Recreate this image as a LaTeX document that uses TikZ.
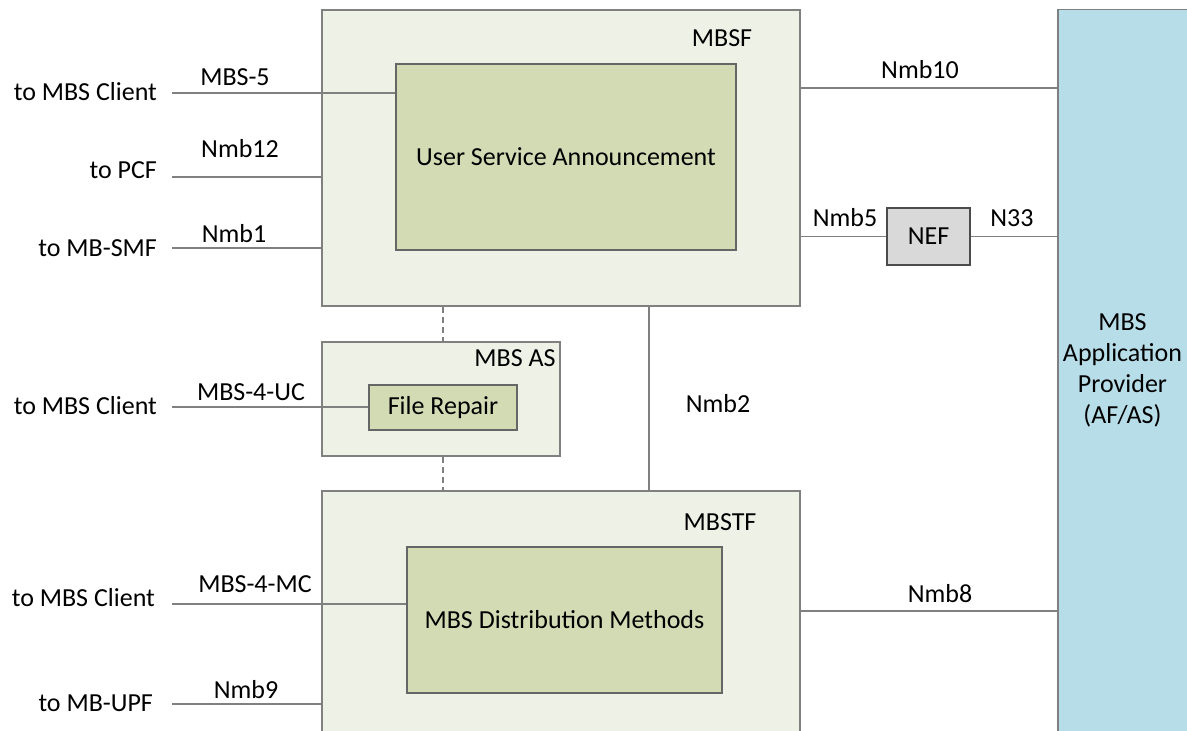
\documentclass[tikz,border=0pt]{standalone}
\usepackage{fontspec}
\setmainfont{Carlito}
\definecolor{boxgreen}{HTML}{EEF1E6}
\definecolor{innergreen}{HTML}{D3DBB5}
\definecolor{appblue}{HTML}{B7DDE8}
\definecolor{nefgray}{HTML}{D9D9D9}
\definecolor{linegray}{HTML}{808080}
\tikzset{
 outerbox/.style={draw=linegray, fill=boxgreen, line width=0.7pt, inner sep=0pt},
 innerbox/.style={draw=black!60, fill=innergreen, line width=0.6pt, inner sep=0pt},
 link/.style={draw=linegray, line width=0.6pt}
}
\begin{document}
\begin{tikzpicture}[x=0.5pt,y=-0.5pt,font=\fontsize{13}{15.5}\selectfont]
\useasboundingbox (0,0) rectangle (1187,731);
\clip (0,0) rectangle (1187,731);

% boxes
\node[outerbox, minimum width=239pt, minimum height=148pt] (mbsf) at (561,158) {};
\node[innerbox, minimum width=170pt, minimum height=93pt] (usa) at (566,157) {User Service Announcement};
\node[outerbox, minimum width=119pt, minimum height=57pt] (mbsas) at (441,399) {};
\node[innerbox, minimum width=74pt, minimum height=22.5pt] (repair) at (443,407.5) {File Repair};
\node[outerbox, minimum width=239pt, minimum height=134.5pt] (mbstf) at (561,625.5) {};
\node[innerbox, minimum width=157.5pt, minimum height=73pt] (distr) at (564.5,620) {MBS Distribution Methods};
\node[draw=black!70, fill=nefgray, line width=0.6pt, minimum width=41.5pt, minimum height=28.5pt, inner sep=0pt] (nef) at (928.5,236.5) {NEF};
\node[fill=appblue, minimum width=64.5pt, minimum height=360.5pt, inner sep=0pt, align=center] (app) at (1122.5,370.5) {MBS\\Application\\Provider\\(AF/AS)};
\draw[linegray, line width=0.9pt] (app.south west) |- (app.north east);

\node at (722,38) {MBSF};
\node at (515,358) {MBS AS};
\node at (720,522) {MBSTF};

% left side
\node[anchor=east] (c1) at (164,92) {to MBS Client};
\node[anchor=east] (pcf) at (164,170) {to PCF};
\node[anchor=east] (smf) at (164,248) {to MB-SMF};
\node[anchor=east] (c2) at (164,406) {to MBS Client};
\node[anchor=east] (c3) at (162,598) {to MBS Client};
\node[anchor=east] (upf) at (160,703) {to MB-UPF};

\coordinate (l1) at (172,93);
\coordinate (l2) at (172,177);
\coordinate (l3) at (172,248);
\coordinate (l4) at (172,407);
\coordinate (l5) at (172,604);
\coordinate (l6) at (172,704);
\draw[link] (l1) -- (l1 -| usa.west);
\draw[link] (l2) -- (l2 -| mbsf.west);
\draw[link] (l3) -- (l3 -| mbsf.west);
\draw[link] (l4) -- (l4 -| repair.west);
\draw[link] (l5) -- (l5 -| distr.west);
\draw[link] (l6) -- (l6 -| mbstf.west);

\node at (235,77) {MBS-5};
\node at (240,149) {Nmb12};
\node at (234,234) {Nmb1};
\node at (251,392) {MBS-4-UC};
\node at (255,584) {MBS-4-MC};
\node at (246,690) {Nmb9};

% middle
\coordinate (n2) at (649,0);
\draw[link] (mbsf.south -| n2) -- (mbstf.north -| n2);
\draw[link, densely dashed] (mbsf.south -| repair) -- (mbsas.north -| repair);
\draw[link, densely dashed] (mbsas.south -| repair) -- (mbstf.north -| repair);
\node at (718,404) {Nmb2};

% right side
\coordinate (r1) at (1000,88);
\coordinate (r2) at (1000,611);
\draw[link] (r1 -| mbsf.east) -- (r1 -| app.west);
\draw[link] (nef.west -| mbsf.east) -- (nef.west);
\draw[link] (nef.east) -- (nef.east -| app.west);
\draw[link] (r2 -| mbstf.east) -- (r2 -| app.west);

\node at (920,70) {Nmb10};
\node at (845,218) {Nmb5};
\node at (1012,218) {N33};
\node at (940,594) {Nmb8};

\end{tikzpicture}
\end{document}
